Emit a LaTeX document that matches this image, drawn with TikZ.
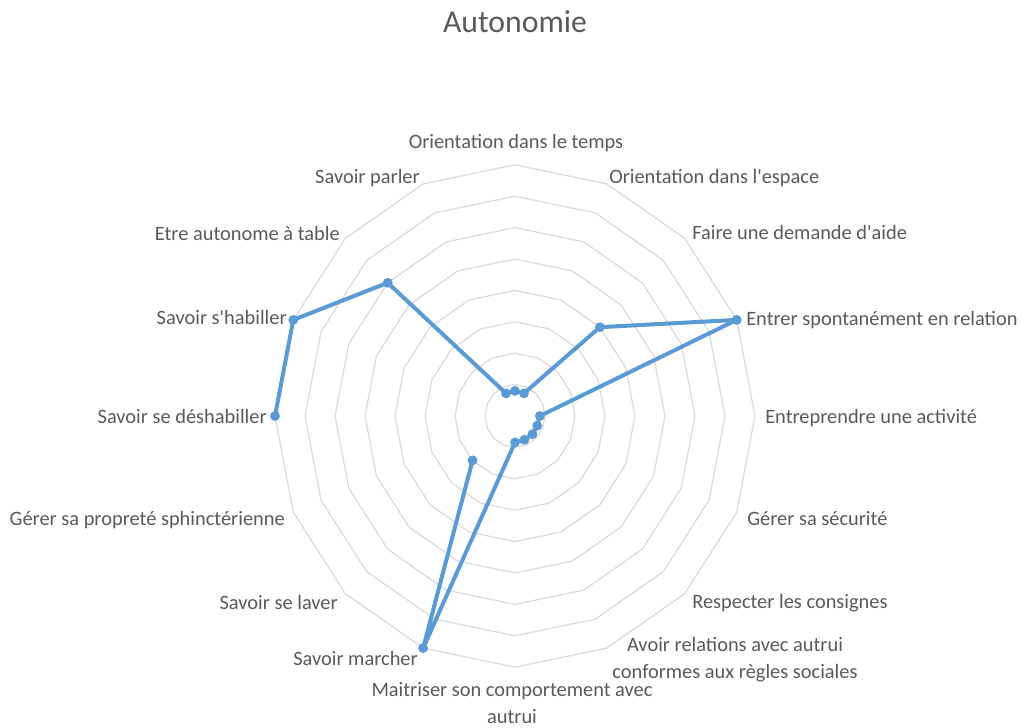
\documentclass[tikz,border=0pt]{standalone}
\usepackage{fontspec}
\setmainfont{Carlito}[Ligatures=TeXOff]
\definecolor{txt}{HTML}{595959}
\definecolor{gridc}{HTML}{D9D9D9}
\definecolor{ser}{HTML}{5B9BD5}
\begin{document}
\begin{tikzpicture}[x=0.75pt,y=-0.75pt,
  lbl/.style={text=txt,font=\fontsize{15.3}{19.8}\selectfont,inner sep=0pt},
  ttl/.style={text=txt,font=\fontsize{23.8}{28}\selectfont,inner sep=0pt},
  ring/.style={draw=gridc,line width=0.9pt,line join=round},
  serline/.style={draw=ser,line width=3pt,line join=round,line cap=round},
  dot/.style={fill=ser}]
\useasboundingbox (0,0) rectangle (1021,728);
% rings
\foreach \k in {1,...,8}{
  \draw[ring] (515,{416-31.4*\k})
    \foreach \i in {1,...,15}{ -- ({515+30*\k*sin(22.5*\i)},{416-31.4*\k*cos(22.5*\i)}) } -- cycle;
}
% data points
\foreach \i/\v in {0/0.8,1/0.78,2/4,3/8,4/0.83,5/0.8,6/0.82,7/0.82,8/0.84,9/8,10/2,12/8,13/8,14/6,15/0.78}{
  \coordinate (d\i) at ({515+30*\v*sin(22.5*\i)},{416-31.4*\v*cos(22.5*\i)});
}
\draw[serline] (d12) -- (d13) -- (d14) -- (d15) -- (d0) -- (d1) -- (d2) -- (d3) -- (d4) -- (d5) -- (d6) -- (d7) -- (d8) -- (d9) -- (d10);
\foreach \i in {0,1,2,3,4,5,6,7,8,9,10,12,13,14,15}{
  \fill[dot] (d\i) circle (3.7pt);
}
% title
\node[ttl,anchor=base] (title) at (515,32) {Autonomie};
% labels
\node[lbl,anchor=base] (l0) at (516,148) {Orientation dans le temps};
\node[lbl,anchor=base west] (l1) at (609,183) {Orientation dans l'espace};
\node[lbl,anchor=base west] (l2) at (692,239) {Faire une demande d'aide};
\node[lbl,anchor=base west] (l3) at (746,325) {Entrer spontanément en relation};
\node[lbl,anchor=base west] (l4) at (765,423) {Entreprendre une activité};
\node[lbl,anchor=base west] (l5) at (747,525) {Gérer sa sécurité};
\node[lbl,anchor=base west] (l6) at (692,608) {Respecter les consignes};
\node[lbl,anchor=base,align=center] (l7) at (735,678) {Avoir relations avec autrui\\conformes aux règles sociales};
\node[lbl,anchor=base,align=center] (l8) at (512,723) {Maitriser son comportement avec\\autrui};
\node[lbl,anchor=base east] (l9) at (418,665) {Savoir marcher};
\node[lbl,anchor=base east] (l10) at (338,609) {Savoir se laver};
\node[lbl,anchor=base east] (l11) at (285,525) {Gérer sa propreté sphinctérienne};
\node[lbl,anchor=base east] (l12) at (267,423) {Savoir se déshabiller};
\node[lbl,anchor=base east] (l13) at (287,324) {Savoir s'habiller};
\node[lbl,anchor=base east] (l14) at (340,240) {Etre autonome à table};
\node[lbl,anchor=base east] (l15) at (420,183) {Savoir parler};
\end{tikzpicture}
\end{document}
